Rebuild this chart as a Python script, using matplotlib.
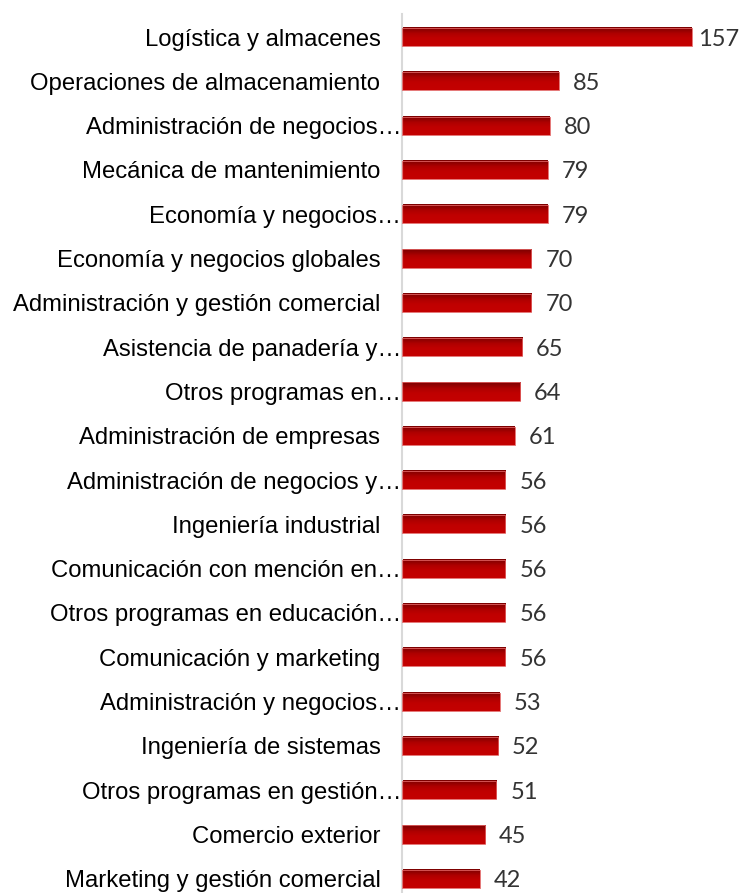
import numpy as np
import matplotlib
matplotlib.use("Agg")
import matplotlib.pyplot as plt
from matplotlib.colors import LinearSegmentedColormap
import matplotlib.transforms as mtransforms

# categories top to bottom, as shown in the chart
categories = [
    "Logística y almacenes",
    "Operaciones de almacenamiento",
    "Administración de negocios…",
    "Mecánica de mantenimiento",
    "Economía y negocios…",
    "Economía y negocios globales",
    "Administración y gestión comercial",
    "Asistencia de panadería y…",
    "Otros programas en…",
    "Administración de empresas",
    "Administración de negocios y…",
    "Ingeniería industrial",
    "Comunicación con mención en…",
    "Otros programas en educación…",
    "Comunicación y marketing",
    "Administración y negocios…",
    "Ingeniería de sistemas",
    "Otros programas en gestión…",
    "Comercio exterior",
    "Marketing y gestión comercial",
]
values = [157, 85, 80, 79, 79, 70, 70, 65, 64, 61, 56, 56, 56, 56, 56, 53, 52, 51, 45, 42]

fig = plt.figure(figsize=(7.5, 8.93), dpi=100)
ax = fig.add_axes([402 / 750, 0, 348 / 750, 879 / 893])

y = np.arange(len(categories))
bars = ax.barh(y, values, height=0.41, color="none", edgecolor="none")

# vertical gradient: dark red on top, bright red below
cmap = LinearSegmentedColormap.from_list(
    "bar", [(0, "#7a0000"), (0.35, "#b00000"), (0.6, "#c00000"), (1, "#c40000")])
grad = np.linspace(0, 1, 64).reshape(-1, 1)
for b in bars:
    x0, yb, w, h = b.get_x(), b.get_y(), b.get_width(), b.get_height()
    ax.imshow(grad, cmap=cmap, aspect="auto", interpolation="bilinear",
              extent=[x0, x0 + w, yb + h, yb], zorder=2)
    ax.add_patch(plt.Rectangle((x0, yb), w, h, fill=False,
                               edgecolor="#e06060", linewidth=0.6, zorder=3))

ax.set_xlim(0, 348 / 1.847)
ax.set_ylim(19.32, -0.52)

# value labels
for i, v in enumerate(values):
    off = 6 if v == max(values) else 14
    tr = ax.transData + mtransforms.ScaledTranslation(off / 100, -2 / 100, fig.dpi_scale_trans)
    ax.text(v, i, str(v), transform=tr, ha="left", va="center",
            fontsize=17, family=["Lato", "DejaVu Sans"],
            color="#333333", clip_on=False)

ax.set_yticks(y)
ax.set_yticklabels(categories, fontsize=17.2, family=["Liberation Sans", "DejaVu Sans"],
                   color="#000000")
ax.tick_params(axis="y", length=0)
for t, lab in zip(ax.yaxis.get_major_ticks(), categories):
    t.set_pad(0.5 if lab.endswith("…") else 15.5)

ax.set_xticks([])
for s in ["top", "right", "bottom"]:
    ax.spines[s].set_visible(False)
ax.spines["left"].set_color("#d9d9d9")
ax.spines["left"].set_linewidth(1.5)

fig.savefig("out.png", dpi=100)
